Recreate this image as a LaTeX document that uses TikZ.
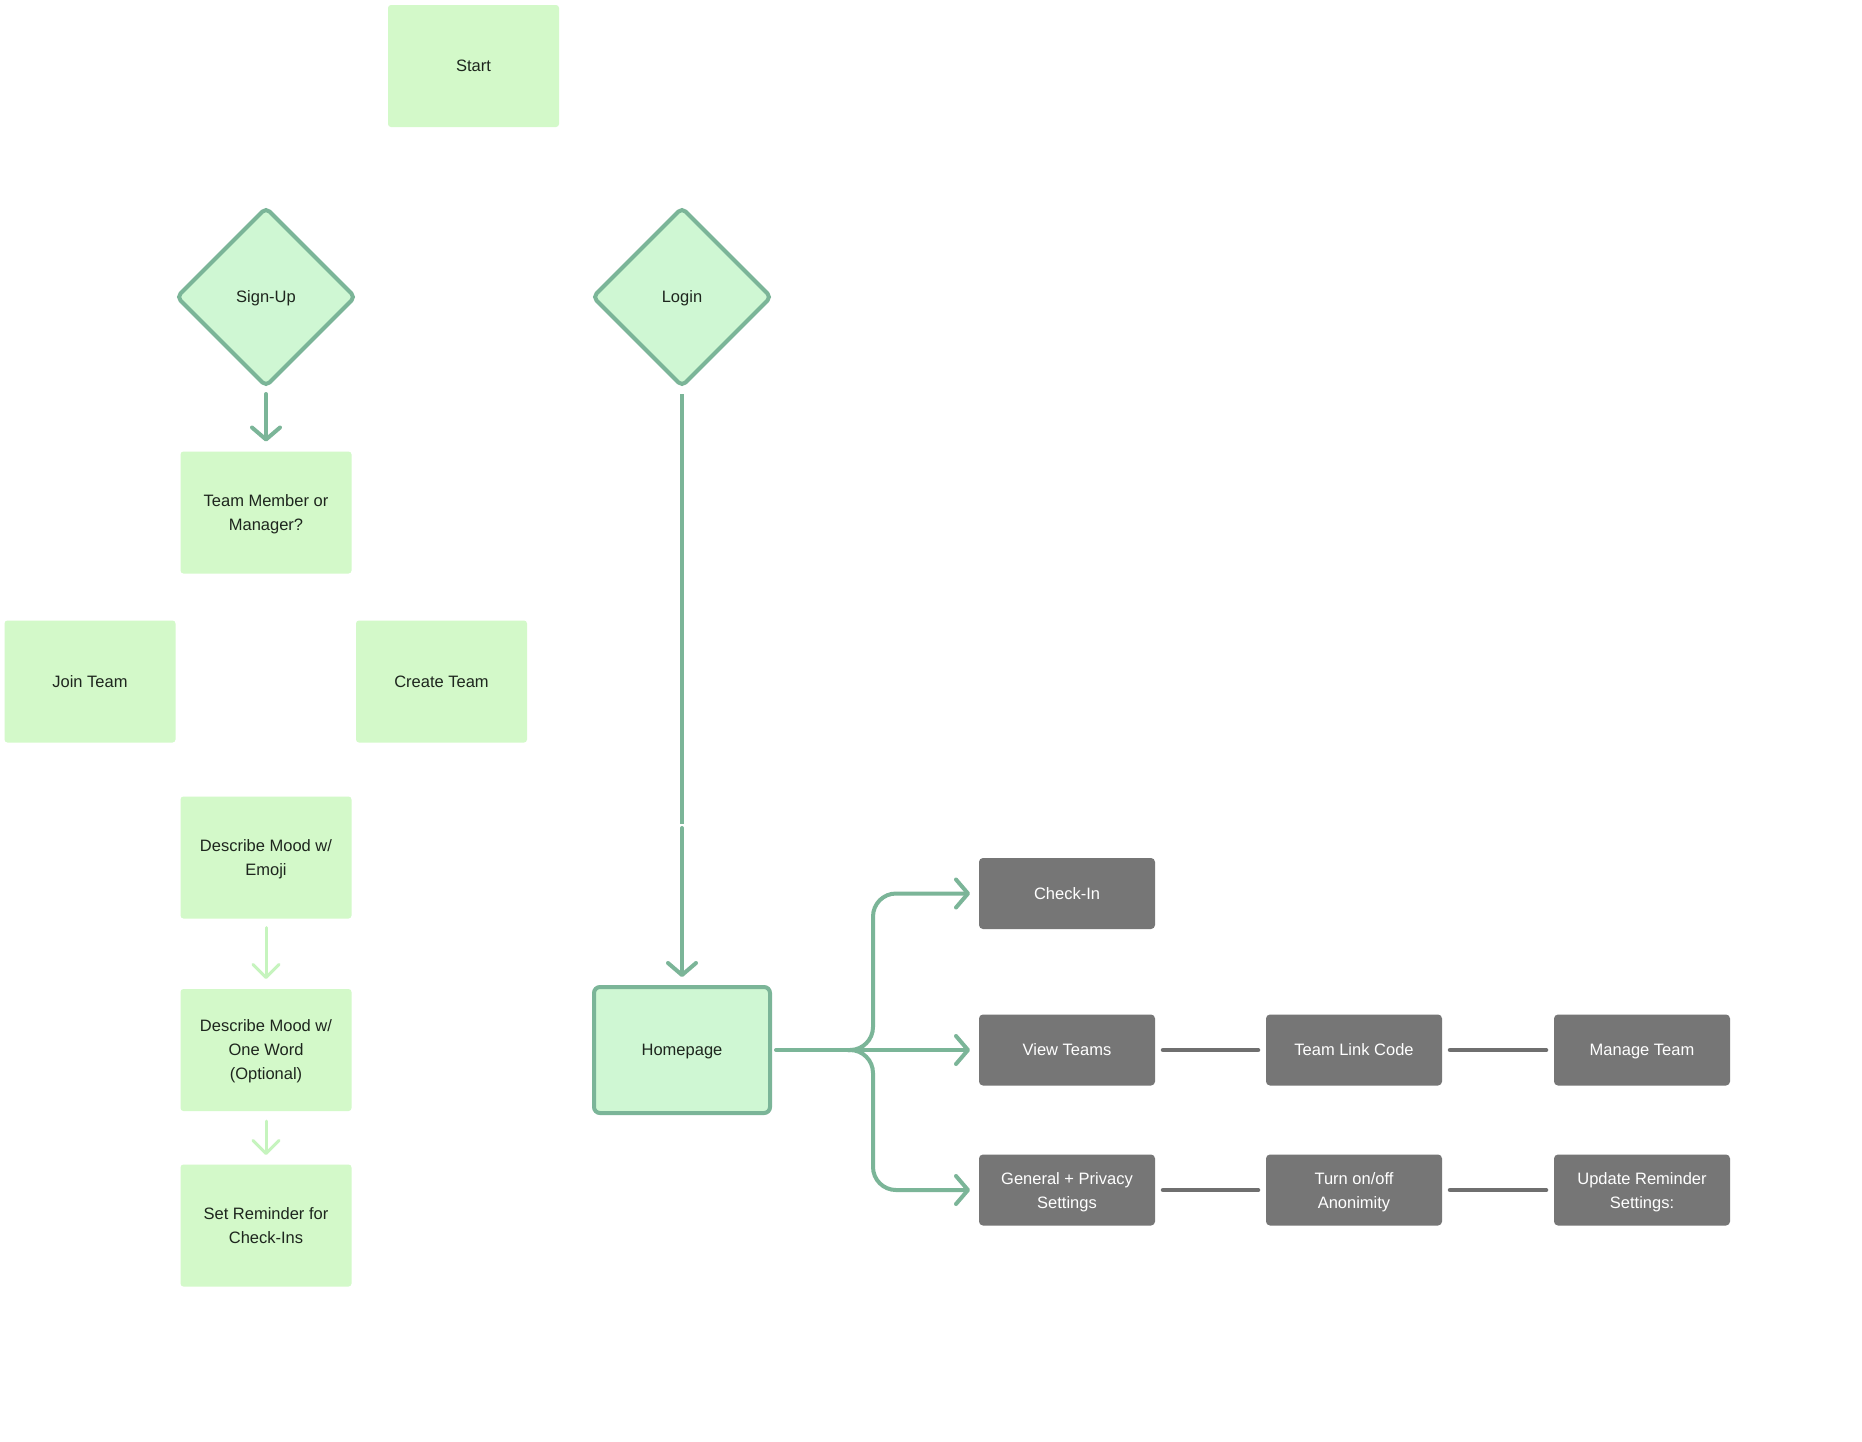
\documentclass[tikz,border=0pt]{standalone}
\usepackage{fontspec}
\setmainfont{Liberation Sans}
\usetikzlibrary{shapes.geometric,arrows.meta}
\definecolor{sticky}{HTML}{D3F9C9}
\definecolor{mint}{HTML}{CFF7D3}
\definecolor{edgegreen}{HTML}{7BB598}
\definecolor{lightarrow}{HTML}{C6F4BE}
\definecolor{boxgray}{HTML}{767676}
\definecolor{linegray}{HTML}{6F6F6F}
\definecolor{ink}{HTML}{1E261E}
\begin{document}
\begin{tikzpicture}[x=1pt,y=-1pt,
  every node/.style={font=\fontsize{16.5}{24}\selectfont, align=center, inner sep=0pt, outer sep=0pt, text depth=0pt},
  greenbox/.style={rectangle, fill=sticky, rounded corners=3pt, minimum width=171pt, minimum height=122pt, text=ink},
  decision/.style={diamond, fill=mint, draw=edgegreen, line width=4pt, rounded corners=5pt, minimum width=178pt, minimum height=178pt, text=ink},
  homebox/.style={rectangle, fill=mint, draw=edgegreen, line width=4pt, rounded corners=6pt, minimum width=176pt, minimum height=126pt, text=ink},
  graybox/.style={rectangle, fill=boxgray, rounded corners=4pt, minimum width=176pt, minimum height=71pt, text=white},
  flowarrow/.style={draw=edgegreen, line width=4pt, line cap=round, -{Straight Barb[length=12pt,width=28pt,round]}},
  lightflow/.style={draw=lightarrow, line width=3pt, line cap=round, -{Straight Barb[length=13pt,width=26pt,round]}},
  greenline/.style={draw=edgegreen, line width=4pt, line cap=butt},
  grayline/.style={draw=linegray, line width=4.5pt, line cap=round},
]
\useasboundingbox[fill=white] (0,0) rectangle (1862,1441);

% left column
\node[greenbox] (start) at (473.5,66) {Start};
\node[decision] (signup) at (266,297) {Sign-Up};
\node[decision] (login) at (682,297) {Login};
\node[greenbox] (tm) at (266,512.5) {Team Member or\\Manager?};
\node[greenbox] (join) at (90,681.5) {Join Team};
\node[greenbox] (create) at (441.5,681.5) {Create Team};
\node[greenbox] (emoji) at (266,857.5) {Describe Mood w/\\Emoji};
\node[greenbox] (oneword) at (266,1050) {Describe Mood w/\\One Word\\(Optional)};
\node[greenbox] (remind) at (266,1225.5) {Set Reminder for\\Check-Ins};

% homepage and right side
\node[homebox] (home) at (682,1050) {Homepage};
\node[graybox] (checkin) at (1067,893.5) {Check-In};
\node[graybox] (viewteams) at (1067,1050) {View Teams};
\node[graybox] (general) at (1067,1190) {General + Privacy\\Settings};
\node[graybox] (tlc) at (1354,1050) {Team Link Code};
\node[graybox] (anon) at (1354,1190) {Turn on/off\\Anonimity};
\node[graybox] (manage) at (1642,1050) {Manage Team};
\node[graybox] (update) at (1642,1190) {Update Reminder\\Settings:};

% connectors
\draw[flowarrow, shorten <=8pt, shorten >=10pt] (signup.south) -- (tm.north);

\coordinate (gapA) at (682,824);
\coordinate (gapB) at (682,828);
\draw[greenline, shorten <=8pt] (login.south) -- (gapA);
\draw[flowarrow, shorten >=10pt] (gapB) -- (home.north);

\draw[lightflow, shorten <=9pt, shorten >=10pt] (emoji.south) -- (oneword.north);
\draw[lightflow, shorten <=10pt, shorten >=9.5pt] (oneword.south) -- (remind.north);

% branching from homepage
\coordinate (junction) at (848,1050);
\draw[flowarrow, shorten <=6pt, shorten >=9pt] (home.east) -- (viewteams.west);
\draw[flowarrow, rounded corners=23pt, shorten >=9pt] (junction) -- (873,1050) -- (873,893.5) -- (checkin.west);
\draw[flowarrow, rounded corners=23pt, shorten >=9pt] (junction) -- (873,1050) -- (873,1190) -- (general.west);

% gray connectors
\draw[grayline, shorten <=8pt, shorten >=8pt] (viewteams.east) -- (tlc.west);
\draw[grayline, shorten <=8pt, shorten >=8pt] (tlc.east) -- (manage.west);
\draw[grayline, shorten <=8pt, shorten >=8pt] (general.east) -- (anon.west);
\draw[grayline, shorten <=8pt, shorten >=8pt] (anon.east) -- (update.west);
\end{tikzpicture}
\end{document}
